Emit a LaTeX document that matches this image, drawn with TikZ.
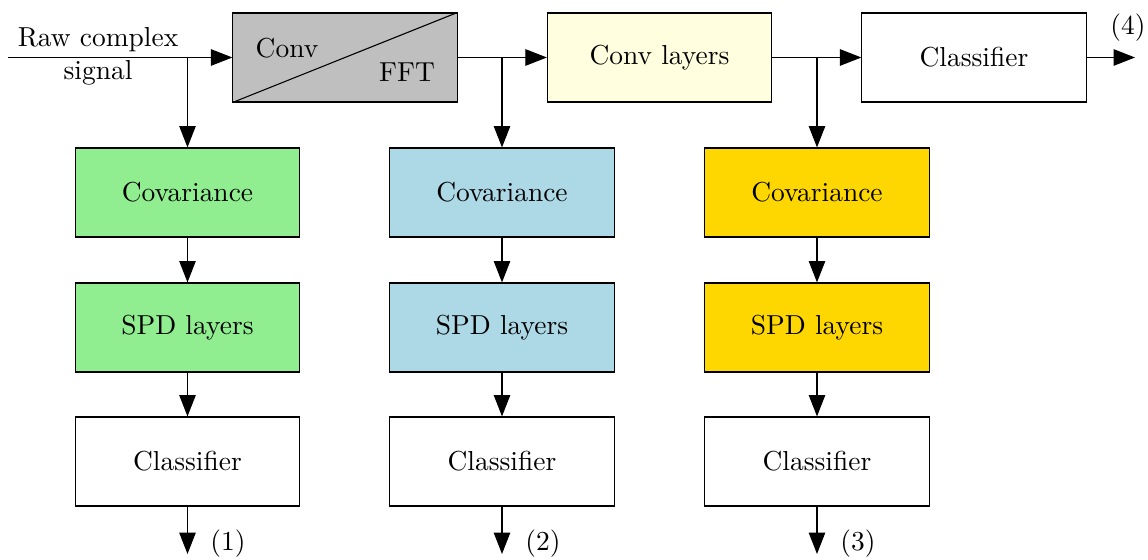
\documentclass[tikz,border=0pt]{standalone}
\usetikzlibrary{arrows.meta,calc}
\definecolor{cgray}{HTML}{BFBFBF}
\definecolor{cyel}{HTML}{FFFFE0}
\definecolor{cgreen}{HTML}{90EE90}
\definecolor{cblue}{HTML}{ADD8E6}
\definecolor{cgold}{HTML}{FFD700}
\tikzset{
  blk/.style={draw, inner sep=0pt, minimum width=2.87cm, minimum height=1.14cm},
  arr/.style={-{Triangle[length=7.8pt,width=6pt]}},
}
\begin{document}
\begin{tikzpicture}[x=0.0128cm,y=-0.0128cm]
\useasboundingbox (0,0) rectangle (1148,560);
% top row
\node[blk, fill=cgray] (conv) at (345,57.5) {};
\node[blk, fill=cyel] (convl) at (659.5,57.5) {Conv layers};
\node[blk] (clf4) at (974,57.5) {Classifier};
\draw (conv.south west) -- (conv.north east);
\node (convt) at (287,48) {Conv};
\node (fftt) at (407,72) {FFT};
\coordinate (in) at (8,57.5);
\node (raw) at (98,40) {Raw complex};
\node (sig) at (98,73) {signal};
% columns
\node[blk, fill=cgreen] (cov1) at (187.5,192.5) {Covariance};
\node[blk, fill=cgreen] (spd1) at (187.5,327.5) {SPD layers};
\node[blk] (cl1) at (187.5,461.5) {Classifier};
\node[blk, fill=cblue] (cov2) at (502,192.5) {Covariance};
\node[blk, fill=cblue] (spd2) at (502,327.5) {SPD layers};
\node[blk] (cl2) at (502,461.5) {Classifier};
\node[blk, fill=cgold] (cov3) at (817,192.5) {Covariance};
\node[blk, fill=cgold] (spd3) at (817,327.5) {SPD layers};
\node[blk] (cl3) at (817,461.5) {Classifier};
% branch points
\coordinate (b1) at (cov1.north |- conv.west);
\coordinate (b2) at (cov2.north |- conv.west);
\coordinate (b3) at (cov3.north |- conv.west);
% top connectors
\draw[arr] (in) -- (conv.west);
\draw[arr] (conv.east) -- (convl.west);
\draw[arr] (convl.east) -- (clf4.west);
\coordinate (o4) at (1135,57.5);
\draw[arr] (clf4.east) -- (o4);
\node (l4) at (1128,28) {(4)};
% vertical
\draw[arr] (b1) -- (cov1.north);
\draw[arr] (b2) -- (cov2.north);
\draw[arr] (b3) -- (cov3.north);
\draw[arr] (cov1) -- (spd1);
\draw[arr] (spd1) -- (cl1);
\draw[arr] (cov2) -- (spd2);
\draw[arr] (spd2) -- (cl2);
\draw[arr] (cov3) -- (spd3);
\draw[arr] (spd3) -- (cl3);
\coordinate (o1) at (187.5,554);
\coordinate (o2) at (502,554);
\coordinate (o3) at (817,554);
\draw[arr] (cl1.south) -- (o1);
\draw[arr] (cl2.south) -- (o2);
\draw[arr] (cl3.south) -- (o3);
\node (l1) at (228,544) {(1)};
\node (l2) at (543,544) {(2)};
\node (l3) at (858,544) {(3)};
\end{tikzpicture}
\end{document}
